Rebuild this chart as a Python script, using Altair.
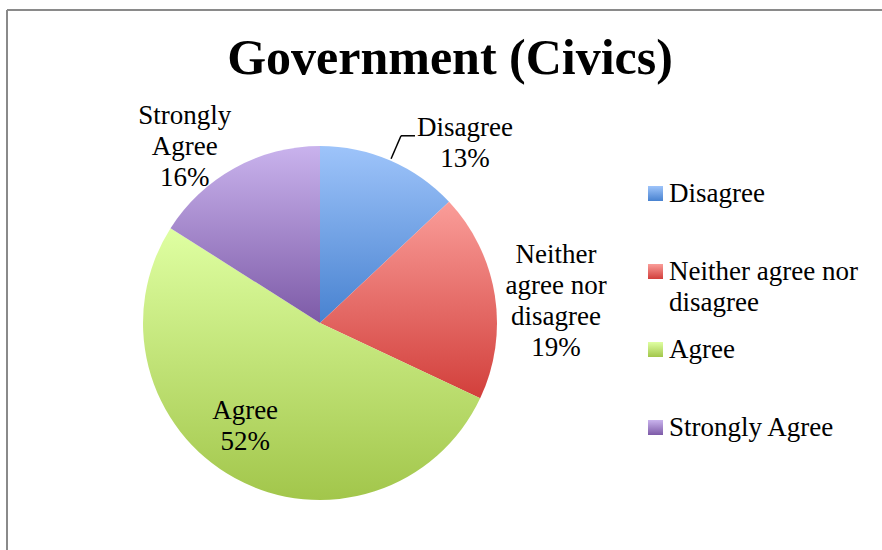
import math
import altair as alt
import pandas as pd

# ---------------- data ----------------
categories = ["Disagree", "Neither agree nor disagree", "Agree", "Strongly Agree"]
percent = [13, 19, 52, 16]
slice_labels = ["Disagree\n13%", "Neither\nagree nor\ndisagree\n19%", "Agree\n52%", "Strongly\nAgree\n16%"]

# ---------------- style ----------------
top_colors = ["#9EC4FA", "#FA9D99", "#DFFFA2", "#C9B3ED"]
bottom_colors = ["#4882D0", "#D23F3B", "#A2C64B", "#7D5AA7"]
FONT = "Liberation Serif"
W, H = 875, 540
CX, CY, R = 313, 313, 177
LH = 31
# label placement per slice: (radius px, angular offset deg)
label_place = {
    "Disagree": (231, 15.5),
    "Neither agree nor disagree": (237, 3.9),
    "Agree": (128, 7.0),
    "Strongly Agree": (222, -8.7),
}

df = pd.DataFrame({"cat": categories, "pct": percent, "order": list(range(len(categories))),
                   "label": slice_labels})


def grad(t, b):
    return {"expr": "{gradient: 'linear', x1: 0, y1: 0, x2: 0, y2: 1, "
                    f"stops: [{{offset: 0, color: '{t}'}}, {{offset: 1, color: '{b}'}}]}}"}


color_range = [grad(t, b) for t, b in zip(top_colors, bottom_colors)]

base = alt.Chart(df)

pie = base.mark_arc(outerRadius=R).encode(
    theta=alt.Theta("pct:Q", stack=True),
    order=alt.Order("order:Q"),
    color=alt.Color(
        "cat:N",
        scale=alt.Scale(domain=categories, range=color_range),
        legend=alt.Legend(
            title=None, orient="none", legendX=635, legendY=170,
            symbolType="square", symbolSize=225, symbolStrokeWidth=0,
            labelFont=FONT, labelFontSize=27, labelColor="black",
            labelLimit=300, labelOffset=0, rowPadding=19,
            labelExpr="datum.label == 'Neither agree nor disagree' ? ['Neither agree nor', 'disagree'] : [datum.label, '']",
        ),
    ),
    x=alt.value(CX), y=alt.value(CY),
)


def with_mid(ch):
    return (ch.transform_window(cum="sum(pct)", sort=[alt.SortField("order")], frame=[None, 0])
              .transform_joinaggregate(total="sum(pct)")
              .transform_calculate(mid="2*PI*(datum.cum - datum.pct/2)/datum.total"))


layers = [pie]
for lbl, (cat, (rad, off)) in zip(slice_labels, label_place.items()):
    n_lines = lbl.count("\n") + 1
    t = (with_mid(base)
         .transform_filter(alt.datum.cat == cat)
         .transform_calculate(ang=f"datum.mid + {math.radians(off)}")
         .mark_text(radius=rad, font=FONT, fontSize=27, lineBreak="\n", lineHeight=LH,
                    align="center", baseline="middle", color="black",
                    dy=-(n_lines - 1) * LH / 2)
         .encode(theta=alt.Theta("ang:Q", scale=None), text="label:N",
                 x=alt.value(CX), y=alt.value(CY)))
    layers.append(t)

# leader line for the Disagree label
leader = (with_mid(base)
          .transform_filter(alt.datum.cat == "Disagree")
          .transform_calculate(
              xa=f"{CX} + {R + 2}*sin(datum.mid)", ya=f"{CY} - {R + 2}*cos(datum.mid)",
              xb=f"{CX} + 204*sin(datum.mid)", yb=f"{CY} - 204*cos(datum.mid)",
              xc=f"{CX} + 204*sin(datum.mid) + 14")
          )
leader1 = leader.mark_rule(color="black", strokeWidth=1.5).encode(
    x=alt.X("xa:Q", scale=None, axis=None), y=alt.Y("ya:Q", scale=None, axis=None),
    x2="xb:Q", y2="yb:Q")
leader2 = leader.mark_rule(color="black", strokeWidth=1.5).encode(
    x=alt.X("xb:Q", scale=None, axis=None), y=alt.Y("yb:Q", scale=None, axis=None),
    x2="xc:Q")
layers += [leader1, leader2]

# chart frame (top and left edges visible in the window)
frame_src = alt.Chart(pd.DataFrame({"k": [0]}))
frame_top = frame_src.mark_rule(color="#8a8a8a", strokeWidth=2).encode(
    x=alt.value(0), x2=alt.value(W + 20), y=alt.value(0))
frame_left = frame_src.mark_rule(color="#8a8a8a", strokeWidth=2).encode(
    x=alt.value(0), y=alt.value(0), y2=alt.value(H + 20))
layers = [frame_top, frame_left] + layers

chart = alt.layer(*layers).properties(
    width=W, height=H,
    title=alt.Title("Government (Civics)", font=FONT, fontSize=50, fontWeight="bold",
                    color="black", anchor="middle", offset=-75, dx=5.5),
    autosize=alt.AutoSizeParams(type="none"),
    padding={"left": 7, "top": 10, "right": 0, "bottom": 0},
).configure_view(stroke=None).configure(
    background="white", style={"guide-label": {"lineHeight": LH}})

chart.save("out.html", embed_options={"renderer": "svg", "actions": False})
